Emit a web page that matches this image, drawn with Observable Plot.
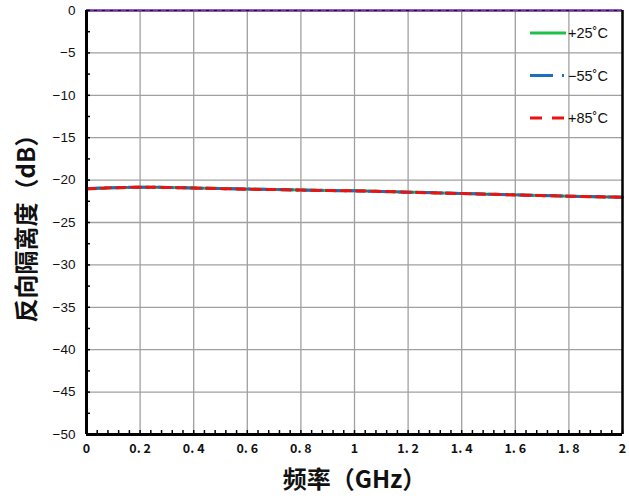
<!DOCTYPE html>
<html>
<head>
<meta charset="utf-8">
<script src="https://cdn.jsdelivr.net/npm/d3@7"></script>
<script src="https://cdn.jsdelivr.net/npm/@observablehq/plot@0.6"></script>
<style>
  html, body { margin: 0; padding: 0; background: #fff; }
  #wrap { position: relative; width: 629px; height: 502px; }
  #legend { position: absolute; left: 0; top: 0; }
  g[aria-label="y-axis label"] text, g[aria-label="x-axis label"] text {
    font-family: "Noto Sans CJK SC", sans-serif; font-size: 24px; font-weight: bold; fill: #111;
  }
  g[aria-label="y-axis tick label"] text { font-family: "Liberation Sans", Arial, sans-serif; font-size: 13.5px; fill: #111; }
  g[aria-label="x-axis tick label"] text { font-family: "Noto Sans CJK SC", sans-serif; font-size: 12.5px; font-weight: bold; fill: #111; }
</style>
</head>
<body>
<div id="wrap"></div>
<script>
// Frequency (GHz)
const freq = [0, 0.1, 0.2, 0.3, 0.4, 0.5, 0.6, 0.7, 0.8, 0.9, 1.0, 1.1, 1.2, 1.3, 1.4, 1.5, 1.6, 1.7, 1.8, 1.9, 2.0];
// Reverse isolation (dB)
const iso25 = [-21.03, -20.9, -20.84, -20.86, -20.93, -21.0, -21.06, -21.12, -21.18, -21.22, -21.26, -21.33, -21.42, -21.5, -21.58, -21.66, -21.74, -21.82, -21.9, -21.96, -22.02];
const isoM55 = [-21.02, -20.89, -20.84, -20.86, -20.94, -21.0, -21.06, -21.11, -21.17, -21.22, -21.27, -21.34, -21.42, -21.5, -21.58, -21.66, -21.74, -21.82, -21.89, -21.96, -22.02];
const iso85 = [-21.03, -20.9, -20.85, -20.87, -20.94, -21.01, -21.07, -21.12, -21.18, -21.23, -21.27, -21.34, -21.43, -21.51, -21.59, -21.67, -21.75, -21.83, -21.9, -21.97, -22.03];
const seriesNames = ["+25˚C", "−55˚C", "+85˚C"];
const seriesColors = ["#1fbf4a", "#1a6fc0", "#ee1111"];
const seriesDash = [null, "14,4,2,4", "9,6"];
const xTicks = [0, 0.2, 0.4, 0.6, 0.8, 1, 1.2, 1.4, 1.6, 1.8, 2];
const yTicks = [0, -5, -10, -15, -20, -25, -30, -35, -40, -45, -50];
const xMinor = d3.range(0, 2.0001, 0.04).map(v => +v.toFixed(2));
const yMinor = d3.range(-50, 0.001, 2.5);

const values = [iso25, isoM55, iso85];
const table = values.map((vals, k) => freq.map((f, i) => ({f, v: vals[i], s: seriesNames[k]})));

const lineMarks = table.map((d, k) => Plot.line(d, {
  x: "f", y: "v", stroke: seriesColors[k], strokeWidth: 3,
  strokeDasharray: seriesDash[k] || undefined, curve: "monotone-x"
}));

const chart = Plot.plot({
  width: 629, height: 502,
  marginLeft: 86, marginRight: 7, marginTop: 10, marginBottom: 68,
  style: {background: "#fff"},
  x: {domain: [0, 2]},
  y: {domain: [-50, 0]},
  marks: [
    Plot.gridX(xTicks, {stroke: "#a0a0a0", strokeOpacity: 1, strokeWidth: 1.3}),
    Plot.gridY(yTicks, {stroke: "#a0a0a0", strokeOpacity: 1, strokeWidth: 1.3}),
    ...lineMarks,
    Plot.ruleY([0], {stroke: "#7030a0", strokeWidth: 2.5}),
    Plot.ruleY([0], {stroke: "#111", strokeWidth: 1, strokeDasharray: "3,5"}),
    Plot.ruleX([0], {stroke: "#000", strokeWidth: 3}),
    Plot.ruleX([2], {stroke: "#000", strokeWidth: 2.5}),
    Plot.ruleY([-50], {stroke: "#000", strokeWidth: 3}),
    Plot.axisX(xMinor, {tickSize: -4, tickFormat: () => "", stroke: "#000", strokeWidth: 1.5, label: null}),
    Plot.axisY(yMinor, {tickSize: -4, tickFormat: () => "", stroke: "#000", strokeWidth: 1.5, label: null}),
    Plot.axisX(xTicks, {tickSize: 0, tickPadding: 10, tickFormat: d => d === 0 || d === 1 || d === 2 ? String(d) : String(d).replace(".", ". "),
      label: "频率（GHz）", labelAnchor: "center", labelArrow: "none", labelOffset: 53}),
    Plot.axisY(yTicks, {tickSize: 0, tickPadding: 11, tickFormat: d => d === 0 ? "0" : "−" + Math.abs(d),
      label: "反向隔离度（dB）", labelAnchor: "center", labelArrow: "none", labelOffset: 69})
  ]
});

const wrap = document.getElementById("wrap");
wrap.appendChild(chart);

// legend overlay
const leg = d3.select(wrap).append("svg").attr("id", "legend").attr("width", 629).attr("height", 502);
seriesNames.forEach((name, k) => {
  const y = 33 + k * 42.5;
  leg.append("line").attr("x1", 530).attr("x2", 566).attr("y1", y).attr("y2", y)
    .attr("stroke", seriesColors[k]).attr("stroke-width", 3)
    .attr("stroke-dasharray", k === 1 ? "23,9,2,10" : (k === 2 ? "12,10" : null));
  leg.append("text").attr("x", 568).attr("y", y).attr("dy", "0.35em")
    .attr("font-family", "Liberation Sans, Arial, sans-serif").attr("font-size", 14.5).attr("fill", "#111")
    .text(name);
});
</script>
</body>
</html>
